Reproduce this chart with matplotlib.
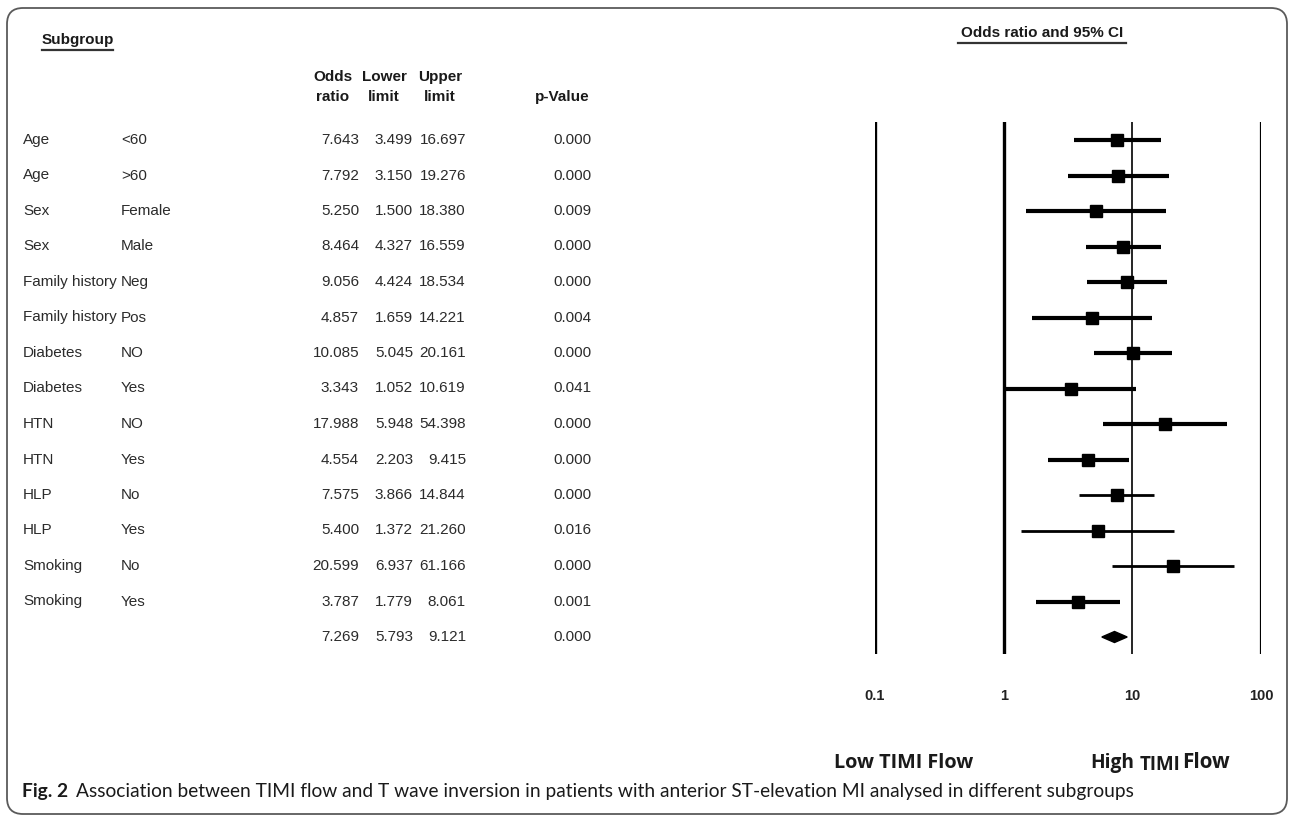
import matplotlib
matplotlib.use("Agg")
import matplotlib.pyplot as plt
from matplotlib.lines import Line2D
from matplotlib.patches import FancyBboxPatch, Polygon
from matplotlib.transforms import blended_transform_factory, IdentityTransform

# ---------------- data ----------------
groups = ["Age", "Age", "Sex", "Sex", "Family history", "Family history",
          "Diabetes", "Diabetes", "HTN", "HTN", "HLP", "HLP",
          "Smoking", "Smoking", ""]
levels = ["<60", ">60", "Female", "Male", "Neg", "Pos", "NO", "Yes",
          "NO", "Yes", "No", "Yes", "No", "Yes", ""]
odds = [7.643, 7.792, 5.250, 8.464, 9.056, 4.857, 10.085, 3.343,
        17.988, 4.554, 7.575, 5.400, 20.599, 3.787, 7.269]
lower = [3.499, 3.150, 1.500, 4.327, 4.424, 1.659, 5.045, 1.052,
         5.948, 2.203, 3.866, 1.372, 6.937, 1.779, 5.793]
upper = [16.697, 19.276, 18.380, 16.559, 18.534, 14.221, 20.161, 10.619,
         54.398, 9.415, 14.844, 21.260, 61.166, 8.061, 9.121]
pvals = [0.000, 0.000, 0.009, 0.000, 0.000, 0.004, 0.000, 0.041,
         0.000, 0.000, 0.000, 0.016, 0.000, 0.001, 0.000]
xticks = [0.1, 1, 10, 100]
xtick_labels = ["0.1", "1", "10", "100"]

# ---------------- layout ----------------
W, H = 1292, 816
fig = plt.figure(figsize=(W / 100, H / 100), dpi=100)
fig.patch.set_facecolor("white")

def fx(px):
    return px / W

def fy(py):
    return 1 - py / H

ROW0, STEP = 140.0, 35.5
top_px, bot_px = 122, 654
ax = fig.add_axes([fx(875), fy(bot_px), fx(1261) - fx(875), (bot_px - top_px) / H])
ax.set_xscale("log")
ax.set_xlim(0.1, 100)
ax.set_ylim((bot_px - ROW0) / STEP, (top_px - ROW0) / STEP)
ax.axis("off")

TXT = "#2b2b2b"
reg = dict(family="Liberation Sans", fontsize=11, color=TXT)
bold = dict(family="Liberation Sans", fontsize=11, color="#1a1a1a", fontweight="bold")

renderer = fig.canvas.get_renderer()

def fit(t, width_px):
    bb = t.get_window_extent(renderer)
    t.set_fontsize(t.get_fontsize() * width_px / bb.width)

def fline(x0, x1, y, lw=1.6, color="#333333"):
    fig.add_artist(Line2D([fx(x0), fx(x1)], [fy(y), fy(y)], transform=fig.transFigure,
                          lw=lw, color=color))

# border
border = FancyBboxPatch((7, H - 814), 1280, 806, boxstyle="round,pad=0,rounding_size=16",
                        transform=IdentityTransform(), fill=False, ec="#5a5a5a", lw=1.3)
fig.add_artist(border)

# headers
fig.text(fx(42), fy(40), "Subgroup", ha="left", va="center", **bold)
fline(42, 113, 50)
fig.text(fx(1042), fy(33), "Odds ratio and 95% CI", ha="center", va="center", **bold)
fline(958, 1126, 43)

for cx, l1, l2 in [(333, "Odds", "ratio"), (384, "Lower", "limit"), (440, "Upper", "limit")]:
    fig.text(fx(cx), fy(77), l1, ha="center", va="center", **bold)
    fig.text(fx(cx), fy(97), l2, ha="center", va="center", **bold)
fig.text(fx(590), fy(97), "p-Value", ha="right", va="center", **bold)

# table rows
tr = blended_transform_factory(fig.transFigure, ax.transData)
for i in range(len(odds)):
    if groups[i]:
        fig.text(fx(23), i, groups[i], transform=tr, ha="left", va="center", **reg)
    if levels[i]:
        fig.text(fx(121), i, levels[i], transform=tr, ha="left", va="center", **reg)
    fig.text(fx(359), i, f"{odds[i]:.3f}", transform=tr, ha="right", va="center", **reg)
    fig.text(fx(413), i, f"{lower[i]:.3f}", transform=tr, ha="right", va="center", **reg)
    fig.text(fx(466), i, f"{upper[i]:.3f}", transform=tr, ha="right", va="center", **reg)
    fig.text(fx(592), i, f"{pvals[i]:.3f}", transform=tr, ha="right", va="center", **reg)

# reference vertical lines
vlw = [2.4, 2.4, 1.2, 1.6]
for xv, lw in zip(xticks, vlw):
    ax.axvline(xv, color="black", lw=lw, zorder=1)
for xv, lab in zip(xticks, xtick_labels):
    ax.text(xv, (696 - ROW0) / STEP, lab, ha="center", va="center", clip_on=False,
            family="Liberation Sans", fontsize=10.5, fontweight="bold", color="#222222")

# forest marks
n = len(odds) - 1
lws = [3, 3, 3, 3, 3, 3, 3, 3, 3, 3, 2, 2, 2, 3]
for i in range(n):
    ax.plot([lower[i], upper[i]], [i, i], color="black", lw=lws[i], solid_capstyle="butt", zorder=3)
    ax.plot([odds[i]], [i], marker="s", ms=9, color="black", zorder=4)
# overall diamond
j = n
hd = 5.5 / STEP
ax.add_patch(Polygon([[lower[j], j], [odds[j], j - hd], [upper[j], j], [odds[j], j + hd]],
                     closed=True, fc="black", ec="black", zorder=4))

# direction labels
flow = dict(family="Open Sans", fontweight="bold", color="#1a1a1a")
t1 = fig.text(fx(903.5), fy(763), "Low TIMI Flow", ha="center", va="center", fontsize=14, **flow)
fit(t1, 141)
th = fig.text(fx(1090), fy(763), "High", ha="left", va="center", fontsize=14, **flow)
fit(th, 44)
tt = fig.text(fx(1140), fy(765), "TIMI", ha="left", va="center", fontsize=13, **flow)
fit(tt, 41)
tf = fig.text(fx(1182), fy(763), "Flow", ha="left", va="center", fontsize=14, **flow)
fit(tf, 48)

# caption
cap = dict(family="Lato", color="#1a1a1a")
cr = fig.text(fx(86), fy(792),
              "Association between TIMI flow and T wave inversion in patients with anterior "
              "ST-elevation MI analysed in different subgroups",
              ha="left", va="center", fontsize=13, **cap)
fit(cr, 1139 - 86)
cb = fig.text(fx(22), fy(792), "Fig. 2", ha="left", va="center",
              fontweight="bold", fontsize=cr.get_fontsize(), **cap)
bbw = cb.get_window_extent(renderer).width
cr.set_x(fx(22 + bbw + 8))

fig.savefig("out.png", dpi=100, facecolor="white")
